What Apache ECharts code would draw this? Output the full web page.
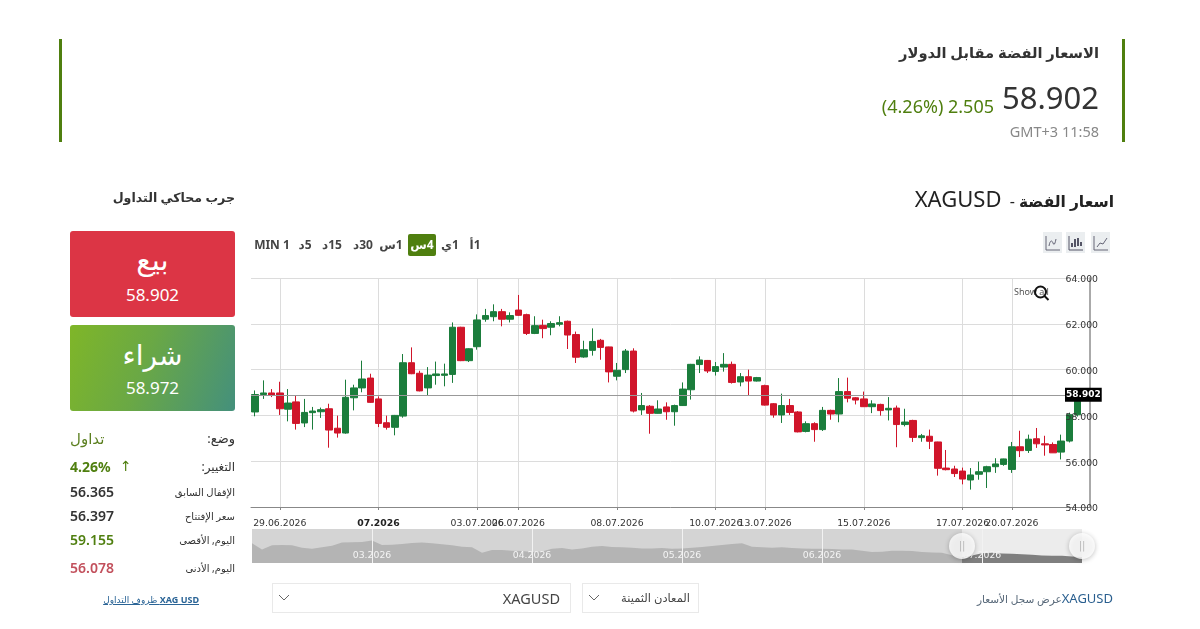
<!DOCTYPE html>
<html lang="ar">
<head>
<meta charset="utf-8">
<title>XAGUSD</title>
<script src="https://cdn.jsdelivr.net/npm/echarts@6/dist/echarts.min.js"></script>
<style>
  html, body { margin: 0; padding: 0; background: #fff; }
  body { position: relative; width: 1200px; height: 629px; overflow: hidden; font-family: "Noto Sans", "DejaVu Sans", sans-serif; color: #333; }
  #chart { position: absolute; left: 0; top: 0; width: 1200px; height: 629px; }
  .t { position: absolute; white-space: nowrap; line-height: 20px; height: 20px; z-index: 2; }
  .r { text-align: right; }
  .bar { position: absolute; top: 39px; width: 3px; height: 103px; background: #4f7f0f; }
  .btn { position: absolute; left: 70px; width: 165px; height: 86px; border-radius: 3px; color: #fff; z-index: 1; }
  .box { position: absolute; top: 583px; height: 28px; border: 1px solid #e9e9e9; z-index: 1; }
  .chev { position: absolute; left: 5px; top: 9px; }
  .tf { position: absolute; top: 234px; height: 22px; line-height: 22px; font-size: 12px; font-weight: 700; color: #444; text-align: center; z-index: 2; white-space: nowrap; }
  .tf.on { background: #4f7f0f; color: #fff; border-radius: 2px; }
  .ico { position: absolute; top: 232px; width: 19px; height: 21px; background: #ebeef0; z-index: 2; }
  .ico svg { display: block; }
</style>
</head>
<body>
<div id="chart"></div>

<div class="bar" style="left:59px"></div>
<div class="bar" style="left:1122px"></div>
<div class="t r" dir="rtl" style="right:101px;top:42px;font-size:14.7px;font-weight:700;color:#333">الاسعار الفضة مقابل الدولار</div>
<div class="t r" id="lastPrice" style="right:101px;top:87px;font-size:31px;color:#333"></div>
<div class="t r" id="change" style="right:206px;top:96px;font-size:18px;color:#4f7f0f"></div>
<div class="t r" style="right:101px;top:121px;font-size:14.5px;color:#888">GMT+3 11:58</div>

<div class="t r" style="right:86px;top:188px;font-size:22px;color:#222"><span dir="ltr">XAGUSD</span><span style="font-size:16px;margin-left:4px"> - </span><span style="font-size:15.5px;font-weight:700">اسعار الفضة</span></div>
<div class="t r" dir="rtl" style="right:965px;top:188px;font-size:12.6px;font-weight:700;color:#333">جرب محاكي التداول</div>

<div class="btn" style="top:231px;background:#dc3545">
  <div class="t" style="left:0;width:165px;text-align:center;top:18px;font-size:29px">بيع</div>
  <div class="t" id="sellPrice" style="left:0;width:165px;text-align:center;top:54px;font-size:17px"></div>
</div>
<div class="btn" style="top:325px;background:linear-gradient(110deg,#7fb628 0%,#6aa845 45%,#44907c 100%)">
  <div class="t" style="left:0;width:165px;text-align:center;top:19px;font-size:28px">شراء</div>
  <div class="t" id="buyPrice" style="left:0;width:165px;text-align:center;top:53px;font-size:17px"></div>
</div>
<div id="stats"></div>
<div class="t" dir="rtl" style="left:105px;top:590px;font-size:9px;color:#2a6496;text-decoration:underline;width:94px;text-align:right"><span style="font-weight:700">XAG USD</span> ظروف التداول</div>

<div id="timeframes"></div>

<div class="ico" style="left:1043px"><svg width="19" height="21" fill="none" stroke="#667"><path d="M3 4v14h14"/><path d="M6 14c1-6 3-6 4-3s2 1 3-4" /></svg></div>
<div class="ico" style="left:1066px"><svg width="19" height="21" fill="none" stroke="#556"><path d="M3 4v14h14"/><path d="M6 15v-4M9 15V7M12 14V6M15 14v-4" stroke-width="2"/></svg></div>
<div class="ico" style="left:1091px"><svg width="19" height="21" fill="none" stroke="#667"><path d="M3 4v14h14"/><path d="M6 15l3-4 3 1 4-6"/></svg></div>

<div class="t" style="left:1014px;top:282px;font-size:9px;color:#555">Show all</div>
<svg style="position:absolute;left:1032px;top:284px;z-index:3" width="18" height="18" fill="none" stroke="#111" stroke-width="2"><circle cx="8.5" cy="8" r="5.5"/><path d="M12.5 12l4 4"/></svg>

<div class="box" style="left:272px;width:297px">
  <svg class="chev" width="12" height="10" fill="none" stroke="#666"><path d="M1 2l5 5 5-5"/></svg>
  <div class="t r" style="right:10px;top:4px;font-size:14.5px;color:#444">XAGUSD</div>
</div>
<div class="box" style="left:582px;width:115px">
  <svg class="chev" width="12" height="10" fill="none" stroke="#666"><path d="M1 2l5 5 5-5"/></svg>
  <div class="t r" dir="rtl" style="right:8px;top:4px;font-size:11.5px;color:#444">المعادن الثمينة</div>
</div>
<div class="t r" dir="rtl" style="right:87px;top:588px;font-size:10.5px;color:#567"><span dir="ltr" style="color:#2a5f8f;font-size:13px">XAGUSD</span>عرض سجل الأسعار</div>

<script>
// Quote figures shown in the header and the side panel
const lastPrice = 58.902;
const askPrice = 58.972;
const changeAbs = 2.505;
const changePct = 4.26;
const statusLabels = ['وضع:', 'التغيير:', 'الإقفال السابق', 'سعر الإفتتاح', 'اليوم, الأقصى', 'اليوم, الأدنى'];
const statusValues = ['تداول', '4.26%', '56.365', '56.397', '59.155', '56.078'];
const statusColors = ['#5b7f1f', '#4f7f0f', '#333', '#333', '#4f7f0f', '#c2505c'];
const timeframeLabels = ['1أ', '1ي', '4س', '1س', '30د', '15د', '5د', 'MIN 1'];

// 4-hour candles: [open, close, low, high]
const candles = [
  [58.15,58.91,57.96,59.09],[58.91,58.98,58.72,59.53],[58.98,58.89,58.80,59.15],[58.98,58.29,58.02,59.47],
  [58.27,58.54,57.74,59.15],[58.59,57.65,57.38,58.89],[57.67,58.13,57.49,58.72],[58.12,58.19,57.38,58.37],
  [58.16,58.25,57.89,58.34],[58.29,57.36,56.59,58.51],[57.44,57.23,57.03,57.99],[57.23,58.79,57.20,59.56],
  [58.77,59.20,58.22,59.34],[59.20,59.59,59.01,60.39],[59.63,58.57,58.55,59.82],[58.72,57.65,57.49,58.83],
  [57.68,57.48,57.38,57.99],[57.48,58.00,57.13,58.02],[57.97,60.30,57.90,60.68],[60.30,59.82,59.80,60.97],
  [59.84,59.07,59.05,59.95],[59.20,59.76,58.89,60.11],[59.74,59.81,59.34,60.35],[59.75,59.81,59.27,60.26],
  [59.79,61.85,59.42,62.06],[61.85,60.39,60.37,61.87],[60.39,60.91,60.33,60.93],[61.00,62.17,60.87,62.41],
  [62.20,62.36,62.09,62.65],[62.31,62.53,62.11,62.85],[62.53,62.20,61.89,62.65],[62.20,62.36,62.06,62.50],
  [62.60,62.37,62.35,63.26],[62.40,61.58,61.51,62.44],[61.58,61.92,61.55,62.33],[61.93,61.79,61.37,62.18],
  [61.85,62.01,61.50,62.11],[61.98,62.05,61.89,62.33],[62.11,61.51,60.90,62.14],[61.53,60.54,60.29,61.66],
  [60.55,60.87,60.52,61.26],[60.84,61.23,60.61,61.80],[61.28,60.97,60.43,61.34],[60.99,59.90,59.44,61.00],
  [59.71,59.97,59.53,60.29],[60.00,60.81,59.85,60.90],[60.81,58.19,58.13,60.93],[58.24,58.43,58.02,58.98],
  [58.40,58.09,57.20,58.45],[58.09,58.28,58.08,58.66],[58.37,58.16,57.81,58.57],[58.16,58.43,57.55,58.47],
  [58.43,59.15,58.41,59.44],[59.12,60.23,58.69,60.25],[60.22,60.42,59.85,60.58],[60.40,59.94,59.85,60.42],
  [59.92,60.13,59.74,60.33],[60.11,60.23,59.91,60.72],[60.23,59.44,59.39,60.35],[59.46,59.69,59.27,59.85],
  [59.69,59.50,58.86,60.00],[59.50,59.65,59.48,59.68],[59.30,58.45,58.43,59.34],[58.51,58.02,57.90,58.54],
  [58.02,58.43,57.67,58.95],[58.43,58.13,58.02,58.72],[58.15,57.28,57.26,58.19],[57.30,57.64,57.26,57.74],
  [57.64,57.38,56.85,57.70],[57.38,58.22,57.32,58.37],[58.22,58.06,57.81,58.25],[58.06,59.04,57.70,59.63],
  [59.04,58.75,58.57,59.65],[58.77,58.67,58.48,58.80],[58.72,58.38,58.37,59.04],[58.38,58.50,58.10,58.66],
  [58.48,58.21,57.99,58.51],[58.24,58.31,57.78,58.80],[58.32,57.60,56.61,58.43],[57.60,57.71,57.52,58.29],
  [57.78,57.04,56.84,57.81],[57.03,57.11,56.85,57.19],[57.09,56.87,56.53,57.38],[56.84,55.69,55.37,56.85],
  [55.70,55.63,55.60,56.49],[55.66,55.46,55.31,55.80],[55.57,55.22,54.99,55.72],[55.18,55.40,54.76,55.70],
  [55.43,55.54,55.19,55.98],[55.54,55.76,54.83,55.80],[55.76,55.88,55.49,56.13],[55.86,56.10,55.80,56.11],
  [55.64,56.63,55.49,56.84],[56.63,56.46,56.18,57.33],[56.47,56.96,56.36,57.16],[56.98,56.76,56.58,57.45],
  [56.76,56.71,56.24,57.11],[56.73,56.365,56.36,56.82],[56.397,56.88,56.078,57.16],[56.88,58.03,56.82,58.12],
  [58.03,58.902,57.95,59.155]
];

// Date ticks along the candle axis: candle index and its label
const tickIndexes = [3, 15, 27, 32, 44, 56, 62, 74, 86, 92];
const tickLabels = ['29.06.2026', '07.2026', '03.07.2026', '06.07.2026', '08.07.2026', '10.07.2026', '13.07.2026', '15.07.2026', '17.07.2026', '20.07.2026'];

// Long-range price history for the navigator strip
const historyValues = [
  74.9,67.5,72.5,72.9,72.5,69.7,68.5,70.1,72.1,75.7,76.1,76.5,78.1,72.9,73.3,74.1,75.3,75.7,74.9,73.7,72.5,70.9,70.1,63.7,
  66.9,66.9,66.1,65.7,64.5,65.3,68.5,69.3,67.7,68.9,70.9,71.7,70.5,70.1,69.7,68.9,68.9,69.3,68.5,68.9,69.7,70.5,71.7,72.9,
  74.1,74.9,70.9,70.1,69.7,70.1,69.3,68.9,68.5,68.5,68.1,67.7,67.7,66.1,64.5,64.9,66.1,66.1,65.7,64.5,64.1,63.7,60.9,58.9
];
const visibleValues = [58.9,60.5,63.3,63.7,62.9,62.5,62.1,61.3,60.5,60.1,60.1,59.3,58.9];
const monthIndexes = [12, 28, 43, 57, 73];
const monthLabels = ['03.2026', '04.2026', '05.2026', '06.2026', '07.2026'];

const fmt3 = v => v.toFixed(3);

// Header and side panel text
document.getElementById('lastPrice').textContent = fmt3(lastPrice);
document.getElementById('change').innerHTML = '<span dir="ltr">(' + changePct.toFixed(2) + '%) ' + fmt3(changeAbs) + '</span>';
document.getElementById('sellPrice').textContent = fmt3(lastPrice);
document.getElementById('buyPrice').textContent = fmt3(askPrice);

const rowTops = [428, 457, 482, 506, 530, 558];
const stats = document.getElementById('stats');
statusLabels.forEach((label, i) => {
  const size = i === 0 ? 13 : i === 1 ? 12 : 10;
  const valueStyle = i === 0 ? 'font-size:15px' : 'font-size:14px;font-weight:' + (i === 1 ? 700 : 600);
  stats.insertAdjacentHTML('beforeend',
    '<div class="t r" dir="rtl" style="right:965px;top:' + rowTops[i] + 'px;font-size:' + size + 'px;color:#333">' + label + '</div>' +
    '<div class="t" style="left:70px;top:' + rowTops[i] + 'px;color:' + statusColors[i] + ';' + valueStyle + '">' + statusValues[i] + '</div>');
});
stats.insertAdjacentHTML('beforeend', '<div class="t" style="left:120px;top:456px;font-size:14px;color:#4f7f0f">↑</div>');

// Timeframe selector
const tfCentres = [475, 450, 422, 391, 363, 332, 305, 272];
timeframeLabels.forEach((label, i) => {
  const w = i === 2 ? 28 : 40;
  const dir = label.startsWith('MIN') ? 'ltr' : 'rtl';
  document.getElementById('timeframes').insertAdjacentHTML('beforeend',
    '<div class="tf' + (i === 2 ? ' on' : '') + '" dir="' + dir + '" style="left:' + (tfCentres[i] - w / 2) + 'px;width:' + w + 'px">' + label + '</div>');
});

// Candle axis gets one spare, unlabelled slot after the last candle
const categories = candles.map((_, i) => {
  const at = tickIndexes.indexOf(i);
  return at >= 0 ? tickLabels[at] : 'c' + i;
}).concat(['']);
const navCategories = historyValues.concat(visibleValues.slice(1)).map((_, i) => {
  const at = monthIndexes.indexOf(i);
  return at >= 0 ? monthLabels[at] : 'm' + i;
});
const navEdge = historyValues.length - 1;
const navLast = navCategories.length - 1;
const isTick = i => tickIndexes.includes(i);
const isLabelled = i => isTick(i) || i === categories.length - 1;
const isMonth = i => monthIndexes.includes(i);
const axisFont = '"DejaVu Sans", sans-serif';

const chart = echarts.init(document.getElementById('chart'), null, { renderer: 'canvas' });
chart.setOption({
  animation: false,
  backgroundColor: 'transparent',
  grid: [
    { left: 251, top: 278, width: 839, height: 229 },
    { left: 252, top: 529, width: 830, height: 34, show: true, backgroundColor: '#d4d4d4', borderWidth: 0 },
    // Carries only the price labels, set just below their gridlines
    { left: 251, top: 280, width: 839, height: 229 }
  ],
  xAxis: [
    {
      type: 'category', gridIndex: 0, data: categories, boundaryGap: true,
      axisLine: { lineStyle: { color: '#888' } },
      axisTick: { show: true, interval: isTick, alignWithLabel: true, length: 3, lineStyle: { color: '#888' } },
      splitLine: { show: true, interval: isTick, alignWithLabel: true, lineStyle: { color: '#dcdcdc', width: 1 } },
      axisLabel: {
        interval: isLabelled, margin: 12, fontFamily: axisFont, fontSize: 9.3, color: '#333', hideOverlap: false,
        formatter: v => v === '07.2026' ? '{b|' + v + '}' : v,
        rich: { b: { fontWeight: 700, fontFamily: axisFont, fontSize: 9.3, color: '#222' } }
      }
    },
    {
      type: 'category', gridIndex: 1, data: navCategories, boundaryGap: false, z: 4,
      axisLine: { show: false }, axisTick: { show: false },
      splitLine: { show: true, interval: isMonth, lineStyle: { color: '#f2f2f2', width: 1 } },
      axisLabel: { inside: true, interval: isMonth, margin: 3, fontFamily: axisFont, fontSize: 9.3, color: '#f4f4f4', hideOverlap: false, showMinLabel: true, showMaxLabel: true }
    },
    { type: 'category', gridIndex: 2, data: categories, show: false }
  ],
  yAxis: [
    {
      type: 'value', gridIndex: 0, position: 'right', min: 54, max: 64, interval: 2,
      axisLine: { show: true, lineStyle: { color: '#aaa', width: 2 } }, axisTick: { show: false },
      splitLine: { show: true, lineStyle: { color: '#dcdcdc', width: 1 } },
      axisLabel: { show: false }
    },
    { type: 'value', gridIndex: 1, min: 51.7, max: 91.7, show: false, splitLine: { show: false } },
    {
      type: 'value', gridIndex: 2, position: 'right', min: 54, max: 64, interval: 2, z: 10,
      axisLine: { show: false }, axisTick: { show: false }, splitLine: { show: false },
      axisLabel: { inside: true, margin: -8, fontFamily: axisFont, fontSize: 9.3, color: '#333', formatter: fmt3 }
    }
  ],
  series: [
    {
      type: 'candlestick', name: 'XAGUSD', xAxisIndex: 0, yAxisIndex: 0, data: candles, barWidth: 7,
      itemStyle: { color: '#1b7d3c', color0: '#d0152a', borderColor: '#1b7d3c', borderColor0: '#d0152a', borderWidth: 1 },
      markLine: {
        silent: true, symbol: 'none', animation: false, z: 12,
        lineStyle: { color: '#999', width: 1, type: 'solid' },
        data: [{ yAxis: lastPrice }],
        label: {
          show: true, position: 'end', distance: -25, formatter: () => fmt3(lastPrice),
          backgroundColor: '#000', color: '#fff', fontFamily: axisFont, fontWeight: 700, fontSize: 9, padding: [3, 1, 2, 1]
        }
      }
    },
    {
      type: 'line', name: 'history', xAxisIndex: 1, yAxisIndex: 1, data: historyValues, symbol: 'none',
      lineStyle: { width: 0 }, areaStyle: { color: '#b4b4b4', opacity: 1 },
      markArea: {
        silent: true, itemStyle: { color: '#ececec', opacity: 1 },
        data: [[{ xAxis: navEdge }, { xAxis: navLast }]]
      }
    },
    {
      type: 'line', name: 'visible', xAxisIndex: 1, yAxisIndex: 1, symbol: 'none',
      data: new Array(navEdge).fill(null).concat(visibleValues),
      lineStyle: { width: 0 }, areaStyle: { color: '#7f7f7f', opacity: 1 }
    },
    {
      type: 'scatter', name: 'handles', xAxisIndex: 1, yAxisIndex: 1, clip: false, symbol: 'circle', symbolSize: 26, z: 5,
      data: [[navEdge, 71.7], [navLast, 71.7]],
      itemStyle: { color: '#fff', shadowBlur: 5, shadowColor: 'rgba(0,0,0,0.3)', shadowOffsetY: 1 },
      label: { show: true, position: 'inside', formatter: '||', color: '#aaa', fontFamily: axisFont, fontSize: 10 }
    }
  ]
});
</script>
</body>
</html>
